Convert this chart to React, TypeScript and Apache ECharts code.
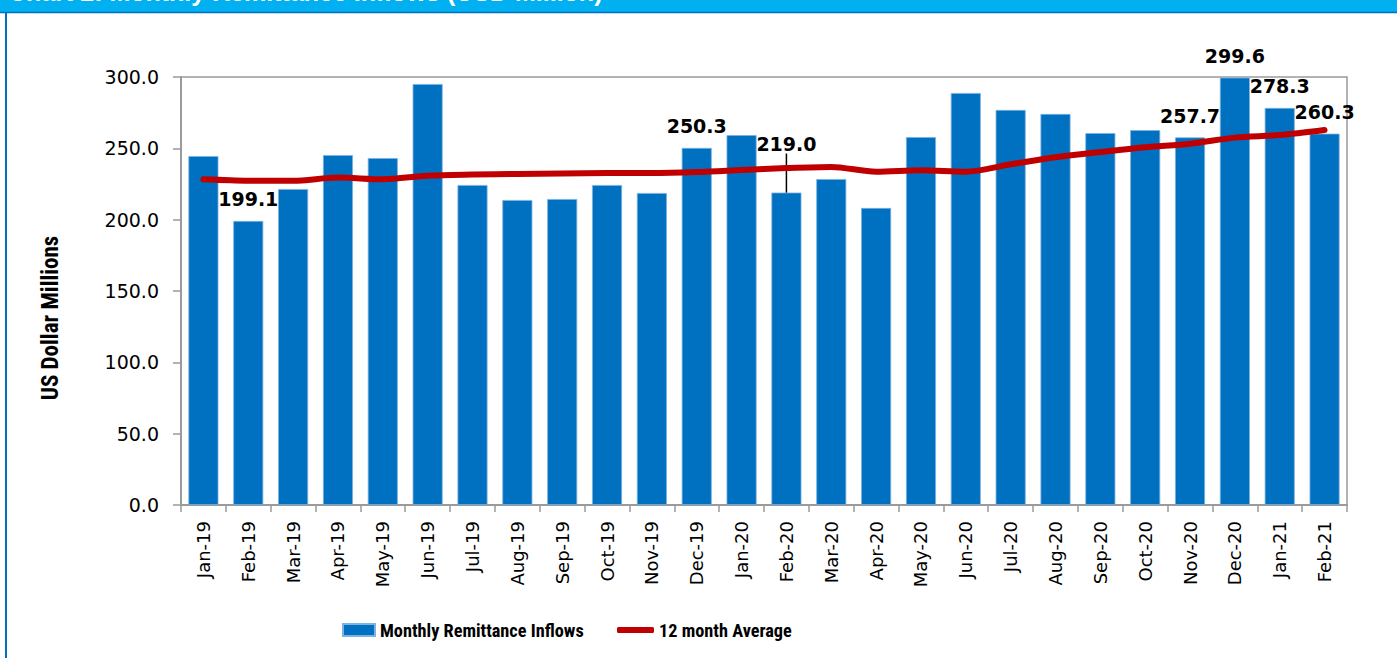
import React, { useEffect, useRef } from "react";
import * as echarts from "echarts";

const months = [
  "Jan-19", "Feb-19", "Mar-19", "Apr-19", "May-19", "Jun-19", "Jul-19", "Aug-19", "Sep-19",
  "Oct-19", "Nov-19", "Dec-19", "Jan-20", "Feb-20", "Mar-20", "Apr-20", "May-20", "Jun-20",
  "Jul-20", "Aug-20", "Sep-20", "Oct-20", "Nov-20", "Dec-20", "Jan-21", "Feb-21",
];

const monthlyInflows = [
  244.6, 199.1, 221.5, 245.3, 243.2, 295.1, 224.3, 213.8, 214.5, 224.3, 218.7, 250.3, 259.3,
  219.0, 228.5, 208.2, 257.9, 288.8, 276.9, 274.1, 260.7, 262.8, 257.7, 299.6, 278.3, 260.3,
];

const twelveMonthAvg = [
  228.3, 227.3, 227.3, 229.5, 228.3, 230.8, 231.6, 232.0, 232.4, 232.7, 232.7, 233.4, 234.8,
  236.2, 237.0, 233.6, 234.6, 233.6, 238.8, 243.8, 247.4, 250.8, 253.2, 257.5, 259.3, 262.8,
];

const labeledMonths = ["Feb-19", "Dec-19", "Feb-20", "Nov-20", "Dec-20", "Jan-21", "Feb-21"];
const raisedLabelMonths = ["Feb-20"];

const yTicks = { min: 0, max: 300, interval: 50 };

const titleText = "Chart 2: Monthly Remittance Inflows (USD Million)";
const barName = "Monthly Remittance Inflows";
const lineName = "12 month Average";
const yAxisTitle = "US Dollar Millions";

const NARROW = '"Liberation Sans Narrow", "Roboto Condensed", "Noto Sans", sans-serif';
const VERDANA = '"DejaVu Sans", Verdana, sans-serif';

export default function App() {
  const ref = useRef<HTMLDivElement>(null);

  useEffect(() => {
    document.body.style.margin = "0";
    if (!ref.current) return;
    const chart = echarts.init(ref.current, undefined, { renderer: "svg" });

    const barData = monthlyInflows.map((v, i) => {
      const m = months[i];
      const show = labeledMonths.includes(m);
      return {
        value: v,
        label: { show },
        labelLine: { show: raisedLabelMonths.includes(m) },
      };
    });

    const axisGray = "#9a9a9a";
    const legendText = { fontFamily: NARROW, fontWeight: "bold", fontSize: 18.3, color: "#000" };

    chart.setOption({
      animation: false,
      backgroundColor: "#ffffff",
      grid: {
        left: 181,
        right: 50,
        top: 77,
        bottom: 153,
        show: true,
        borderColor: axisGray,
        borderWidth: 1.5,
        containLabel: false,
      },
      legend: [
        {
          data: [barName],
          left: 342,
          top: 621,
          padding: 0,
          itemWidth: 32,
          itemHeight: 12,
          icon: "rect",
          textStyle: legendText,
        },
        {
          data: [lineName],
          left: 617,
          top: 621,
          padding: 0,
          itemWidth: 37,
          itemHeight: 6,
          icon: "roundRect",
          textStyle: legendText,
        },
      ],
      xAxis: {
        type: "category",
        data: months,
        boundaryGap: true,
        axisLine: { lineStyle: { color: axisGray, width: 2 } },
        axisTick: { show: true, length: 7, lineStyle: { color: axisGray, width: 1.5 } },
        axisLabel: {
          rotate: 90,
          margin: 16,
          interval: 0,
          fontFamily: VERDANA,
          fontSize: 18,
          color: "#000",
        },
      },
      yAxis: {
        type: "value",
        min: yTicks.min,
        max: yTicks.max,
        interval: yTicks.interval,
        axisLine: { show: true, lineStyle: { color: axisGray, width: 2 } },
        axisTick: { show: true, length: 8, lineStyle: { color: axisGray, width: 1.5 } },
        splitLine: { show: false },
        axisLabel: {
          margin: 22,
          fontFamily: VERDANA,
          fontSize: 19,
          color: "#000",
          formatter: (v: number) => v.toFixed(1),
        },
      },
      series: [
        {
          name: barName,
          type: "bar",
          data: barData,
          barCategoryGap: "33%",
          itemStyle: { color: "#0070C0", borderColor: "#7fb2e0", borderWidth: 0.8 },
          label: {
            show: false,
            position: "top",
            distance: 12,
            fontFamily: VERDANA,
            fontWeight: "bold",
            fontSize: 19,
            color: "#000",
            formatter: (p: any) => Number(p.value).toFixed(1),
          },
          labelLayout: (p: any) =>
            raisedLabelMonths.includes(months[p.dataIndex]) ? { dy: -27 } : {},
          labelLine: { show: false, lineStyle: { color: "#000", width: 1.5 } },
          z: 2,
        },
        {
          name: lineName,
          type: "line",
          data: twelveMonthAvg,
          smooth: 0.3,
          symbol: "none",
          lineStyle: { color: "#C00000", width: 6, cap: "round", join: "round" },
          itemStyle: { color: "#C00000" },
          z: 3,
        },
      ],
      graphic: [
        {
          type: "rect",
          shape: { x: 0, y: 0, width: 1397, height: 12 },
          style: { fill: "#00B0F0" },
          silent: true,
        },
        {
          type: "text",
          x: 8,
          y: 4,
          style: {
            text: titleText,
            fill: "#ffffff",
            font: 'bold 25px "Liberation Sans", Arial, sans-serif',
            textVerticalAlign: "bottom",
          },
          silent: true,
        },
        {
          type: "line",
          shape: { x1: 0, y1: 12.5, x2: 1397, y2: 12.5 },
          style: { stroke: "#0070C0", lineWidth: 1.5 },
          silent: true,
        },
        {
          type: "line",
          shape: { x1: 6, y1: 13, x2: 6, y2: 658 },
          style: { stroke: "#0070C0", lineWidth: 2 },
          silent: true,
        },
        {
          type: "text",
          x: 50,
          y: 318,
          rotation: Math.PI / 2,
          style: {
            text: yAxisTitle,
            fill: "#000",
            font: 'bold 23px "Liberation Sans Narrow", "Roboto Condensed", sans-serif',
            textAlign: "center",
            textVerticalAlign: "middle",
          },
          silent: true,
        },
      ],
    });

    return () => chart.dispose();
  }, []);

  return <div ref={ref} style={{ width: 1397, height: 658 }} />;
}
